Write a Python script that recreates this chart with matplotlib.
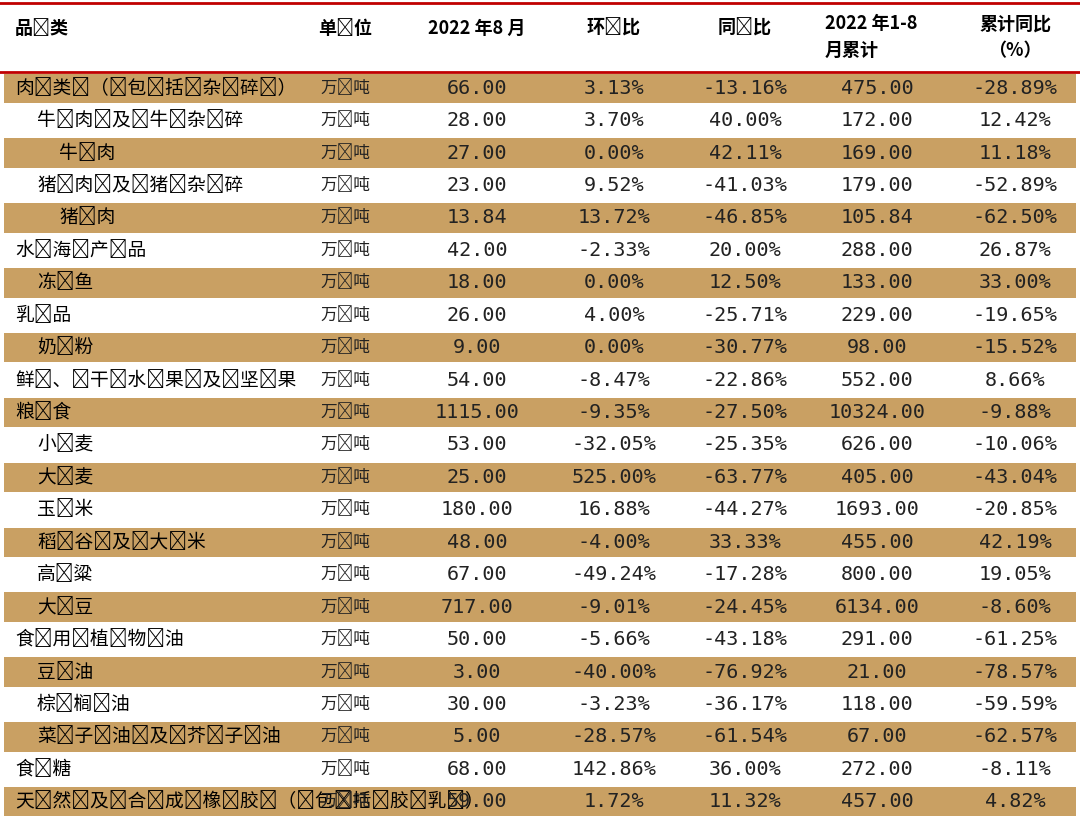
import matplotlib.pyplot as plt
from matplotlib.patches import Rectangle

plt.rcParams['font.sans-serif'] = ['Noto Sans CJK SC']

headers = ["品类", "单位", "2022 年8 月", "环比", "同比", "2022 年1-8\n月累计", "累计同比\n（%）"]
categories = ["肉类（包括杂碎）", "牛肉及牛杂碎", "牛肉", "猪肉及猪杂碎", "猪肉", "水海产品", "冻鱼",
              "乳品", "奶粉", "鲜、干水果及坚果", "粮食", "小麦", "大麦", "玉米", "稻谷及大米", "高粱",
              "大豆", "食用植物油", "豆油", "棕榈油", "菜子油及芥子油", "食糖", "天然及合成橡胶（包括胶乳）"]
indent = [0, 1, 2, 1, 2, 0, 1, 0, 1, 0, 0, 1, 1, 1, 1, 1, 1, 0, 1, 1, 1, 0, 0]
unit = "万吨"
aug = [66.00, 28.00, 27.00, 23.00, 13.84, 42.00, 18.00, 26.00, 9.00, 54.00, 1115.00, 53.00, 25.00,
       180.00, 48.00, 67.00, 717.00, 50.00, 3.00, 30.00, 5.00, 68.00, 59.00]
mom = [3.13, 3.70, 0.00, 9.52, 13.72, -2.33, 0.00, 4.00, 0.00, -8.47, -9.35, -32.05, 525.00,
       16.88, -4.00, -49.24, -9.01, -5.66, -40.00, -3.23, -28.57, 142.86, 1.72]
yoy = [-13.16, 40.00, 42.11, -41.03, -46.85, 20.00, 12.50, -25.71, -30.77, -22.86, -27.50, -25.35,
       -63.77, -44.27, 33.33, -17.28, -24.45, -43.18, -76.92, -36.17, -61.54, 36.00, 11.32]
cum = [475.00, 172.00, 169.00, 179.00, 105.84, 288.00, 133.00, 229.00, 98.00, 552.00, 10324.00,
       626.00, 405.00, 1693.00, 455.00, 800.00, 6134.00, 291.00, 21.00, 118.00, 67.00, 272.00, 457.00]
cum_yoy = [-28.89, 12.42, 11.18, -52.89, -62.50, 26.87, 33.00, -19.65, -15.52, 8.66, -9.88, -10.06,
           -43.04, -20.85, 42.19, 19.05, -8.60, -61.25, -78.57, -59.59, -62.57, -8.11, 4.82]

W, H = 1080, 818
fig = plt.figure(figsize=(W / 100, H / 100), dpi=100)
ax = fig.add_axes([0, 0, 1, 1])
ax.set_xlim(0, W)
ax.set_ylim(H, 0)
ax.axis('off')

col_x = [15, 345, 477, 614, 745, 877, 1015]
head_top, head_bot = 3, 72
row_h = (H - head_bot) / len(categories)


def spaced(s):
    # the reference sets Chinese text with loose letter spacing
    return "\u2009".join(s)


ax.plot([0, W], [head_top, head_top], color='#c00000', lw=2)
ax.plot([0, W], [head_bot, head_bot], color='#c00000', lw=2)

for j, h in enumerate(headers):
    ha = 'left' if j == 0 else 'center'
    x = col_x[j]
    if j == 5:
        ha, x = 'left', 825
    if '\n' in h:
        ax.text(x, 37, h, ha=ha, va='center', fontsize=13, fontweight='bold', linespacing=1.5)
    else:
        ax.text(x, 28, spaced(h) if j in (0, 1, 3, 4) else h, ha=ha, va='center',
                fontsize=13, fontweight='bold')

for i, name in enumerate(categories):
    y0 = head_bot + i * row_h
    yc = y0 + row_h / 2
    if i % 2 == 0:
        ax.add_patch(Rectangle((4, y0 + 1.5), W - 8, row_h - 3, color='#c9a063', lw=0))
    vals = [f"{aug[i]:.2f}", f"{mom[i]:.2f}%", f"{yoy[i]:.2f}%", f"{cum[i]:.2f}", f"{cum_yoy[i]:.2f}%"]
    ax.text(col_x[0] + indent[i] * 22, yc, spaced(name), ha='left', va='center', fontsize=13.5)
    ax.text(col_x[1], yc, spaced(unit), ha='center', va='center', fontsize=12, color='#222222')
    for j, v in enumerate(vals, start=2):
        ax.text(col_x[j], yc, v, ha='center', va='center', fontsize=14.5,
                family='DejaVu Sans Mono', color='#222222')

fig.savefig("out.png", dpi=100)
